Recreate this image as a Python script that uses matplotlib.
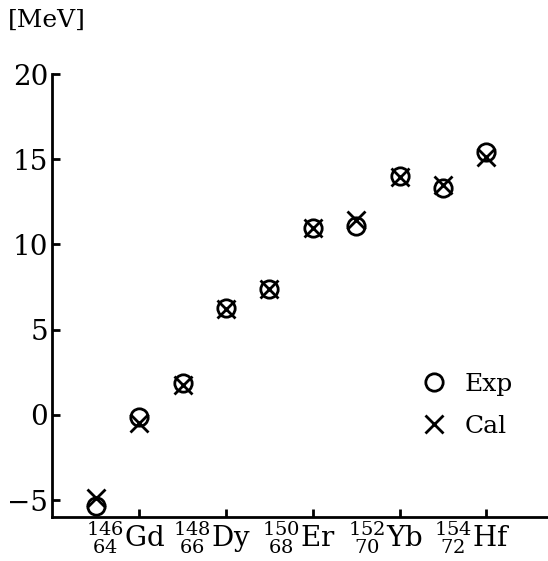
import matplotlib
matplotlib.use('Agg')
import matplotlib.pyplot as plt
import matplotlib.transforms as mtransforms

plt.rcParams['font.family'] = 'DejaVu Serif'
plt.rcParams['mathtext.fontset'] = 'dejavuserif'

# mass number A of each point
mass = [145, 146, 147, 148, 149, 150, 151, 152, 153, 154]
exp_vals = [-5.35, -0.1, 1.9, 6.25, 7.4, 10.95, 11.1, 14.0, 13.3, 15.45]
cal_vals = [-4.9, -0.45, 1.75, 6.2, 7.4, 10.95, 11.45, 13.95, 13.5, 15.15]

tick_pos = [146, 148, 150, 152, 154]
tick_labels = [r'$^{146}_{\ 64}$Gd', r'$^{148}_{\ 66}$Dy', r'$^{150}_{\ 68}$Er',
               r'$^{152}_{\ 70}$Yb', r'$^{154}_{\ 72}$Hf']

fig = plt.figure(figsize=(5.48, 5.61), dpi=100)
ax = fig.add_axes([0.0954, 0.079, 0.9046, 0.789])

ax.plot(mass, exp_vals, 'o', ls='none', mfc='none', mec='black', ms=12.5, mew=2.0, label='Exp')
ax.plot(mass, cal_vals, 'x', ls='none', color='black', ms=13.5, mew=2.0, label='Cal')

ax.set_xlim(144.0, 155.42)
ax.set_ylim(-5.97, 20)
ax.set_yticks([-5, 0, 5, 10, 15, 20])
ax.set_yticklabels(['\u22125', '0', '5', '10', '15', '20'])
ax.set_xticks(tick_pos)
ax.set_xticklabels(tick_labels)

for s in ['top', 'right']:
    ax.spines[s].set_visible(False)
for s in ['left', 'bottom']:
    ax.spines[s].set_linewidth(2)

ax.tick_params(direction='in', length=6, width=2, labelsize=20, pad=3)
ax.tick_params(axis='x', labelsize=20, pad=2)

# shift nuclide labels slightly left so the symbol sits by the tick
offset = mtransforms.ScaledTranslation(-14 / 100, 0, fig.dpi_scale_trans)
for lab in ax.get_xticklabels():
    lab.set_transform(lab.get_transform() + offset)

fig.text(0.015, 0.963, '[MeV]', fontsize=18, va='center', ha='left')

ax.legend(loc='center left', bbox_to_anchor=(0.70, 0.252), frameon=False, fontsize=18,
          handletextpad=0.7, labelspacing=0.75, handlelength=1.0)

plt.savefig('out.png', dpi=100)
